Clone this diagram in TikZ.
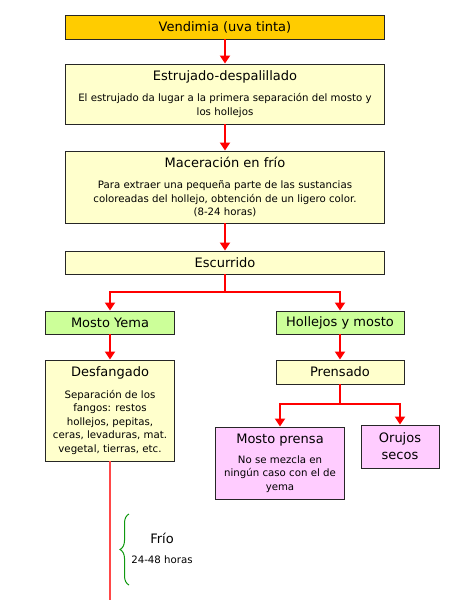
\documentclass[tikz,border=0pt]{standalone}
\usepackage{fontspec}
\setmainfont{DejaVu Sans}
\usetikzlibrary{arrows.meta,decorations.pathreplacing}
\definecolor{VinoGold}{HTML}{FFCC00}
\definecolor{VinoCream}{HTML}{FFFFCC}
\definecolor{VinoGreen}{HTML}{CCFF99}
\definecolor{VinoPink}{HTML}{FFCCFF}
\definecolor{VinoRed}{HTML}{FF0000}
\definecolor{VinoLightRed}{HTML}{FF4848}
\definecolor{VinoBrace}{HTML}{109910}
\newcommand{\stagetitle}{\fontsize{13}{17}\selectfont}
\newcommand{\stagenote}{\fontsize{10.2}{13.5}\selectfont}
\tikzset{
  stagebox/.style={
    draw=black!85,
    line width=.9pt,
    inner sep=0pt,
    align=center,
    font=\stagenote
  },
  harvestbox/.style={stagebox,fill=VinoGold},
  processbox/.style={stagebox,fill=VinoCream},
  phasebox/.style={stagebox,fill=VinoGreen},
  productbox/.style={stagebox,fill=VinoPink},
  pipe/.style={draw=VinoRed,line width=1.8pt},
  thinpipe/.style={draw=VinoLightRed,line width=1.3pt},
  arrow/.style={pipe,-{Triangle[length=8pt,width=10pt]}},
  coldbrace/.style={draw=VinoBrace,line width=1pt,decorate,
    decoration={brace,amplitude=9pt,aspect=.5}}
}

\begin{document}
\begin{tikzpicture}[x=1pt,y=-1pt]
  \useasboundingbox (0,0) rectangle (450,600);

  % Main line: harvest to draining.
  \node[harvestbox, minimum width=319pt, minimum height=24pt] (vend) at (225,27)
    {\stagetitle Vendimia (uva tinta)};
  \node[processbox, minimum width=319pt, minimum height=60pt] (estr) at (225,94)
    {{\stagetitle Estrujado-despalillado}\\[7.5pt]El estrujado da lugar a la primera separación del mosto y\\los hollejos};
  \node[processbox, minimum width=319pt, minimum height=72pt] (mace) at (225,187)
    {{\stagetitle Maceración en frío}\\[7.5pt]Para extraer una pequeña parte de las sustancias\\coloreadas del hollejo, obtención de un ligero color.\\(8-24 horas)};
  \node[processbox, minimum width=319pt, minimum height=23pt] (escu) at (225,262.5)
    {\stagetitle Escurrido};

  \draw[arrow] (vend) -- (estr);
  \draw[arrow] (estr) -- (mace);
  \draw[arrow] (mace) -- (escu);

  % Two branches after draining.
  \node[phasebox, minimum width=129pt, minimum height=23pt] (yema) at (110,322.5)
    {\stagetitle Mosto Yema};
  \node[phasebox, minimum width=128pt, minimum height=23pt] (holl) at (340,322.5)
    {\stagetitle Hollejos y mosto};
  \node[processbox, minimum width=129pt, minimum height=101pt] (desf) at (110,410.5)
    {{\stagetitle Desfangado}\\[8pt]Separación de los\\fangos: restos\\hollejos, pepitas,\\ceras, levaduras, mat.\\vegetal, tierras, etc.};
  \node[processbox, minimum width=128pt, minimum height=24pt] (pren) at (340,372)
    {\stagetitle Prensado};
  \node[productbox, minimum width=129pt, minimum height=72pt] (mpre) at (280,463)
    {{\stagetitle Mosto prensa}\\[6.5pt]No se mezcla en\\ningún caso con el de\\yema};
  \node[productbox, minimum width=78pt, minimum height=43pt, font=\stagetitle] (oruj) at (400,446.5)
    {Orujos\\secos};

  \coordinate (split1) at (225,292);
  \coordinate (split2) at (340,404);
  \coordinate (bottomend) at (110,600);

  \draw[pipe] (escu) -- (split1);
  \draw[arrow] (split1) -| (yema);
  \draw[arrow] (split1) -| (holl);
  \draw[arrow] (yema) -- (desf);
  \draw[arrow] (holl) -- (pren);
  \draw[pipe] (pren) -- (split2);
  \draw[arrow] (split2) -| (mpre);
  \draw[arrow] (split2) -| (oruj);
  \draw[thinpipe] (desf) -- (bottomend);

  % Cold settling note.
  \coordinate (bracelow) at (129,585);
  \coordinate (bracehigh) at (129,514);
  \draw[coldbrace] (bracelow) -- (bracehigh);
  \node[font=\stagetitle] (coldname) at (162,538) {Frío};
  \node[font=\stagenote] (coldtime) at (162,560) {24-48 horas};
\end{tikzpicture}
\end{document}
